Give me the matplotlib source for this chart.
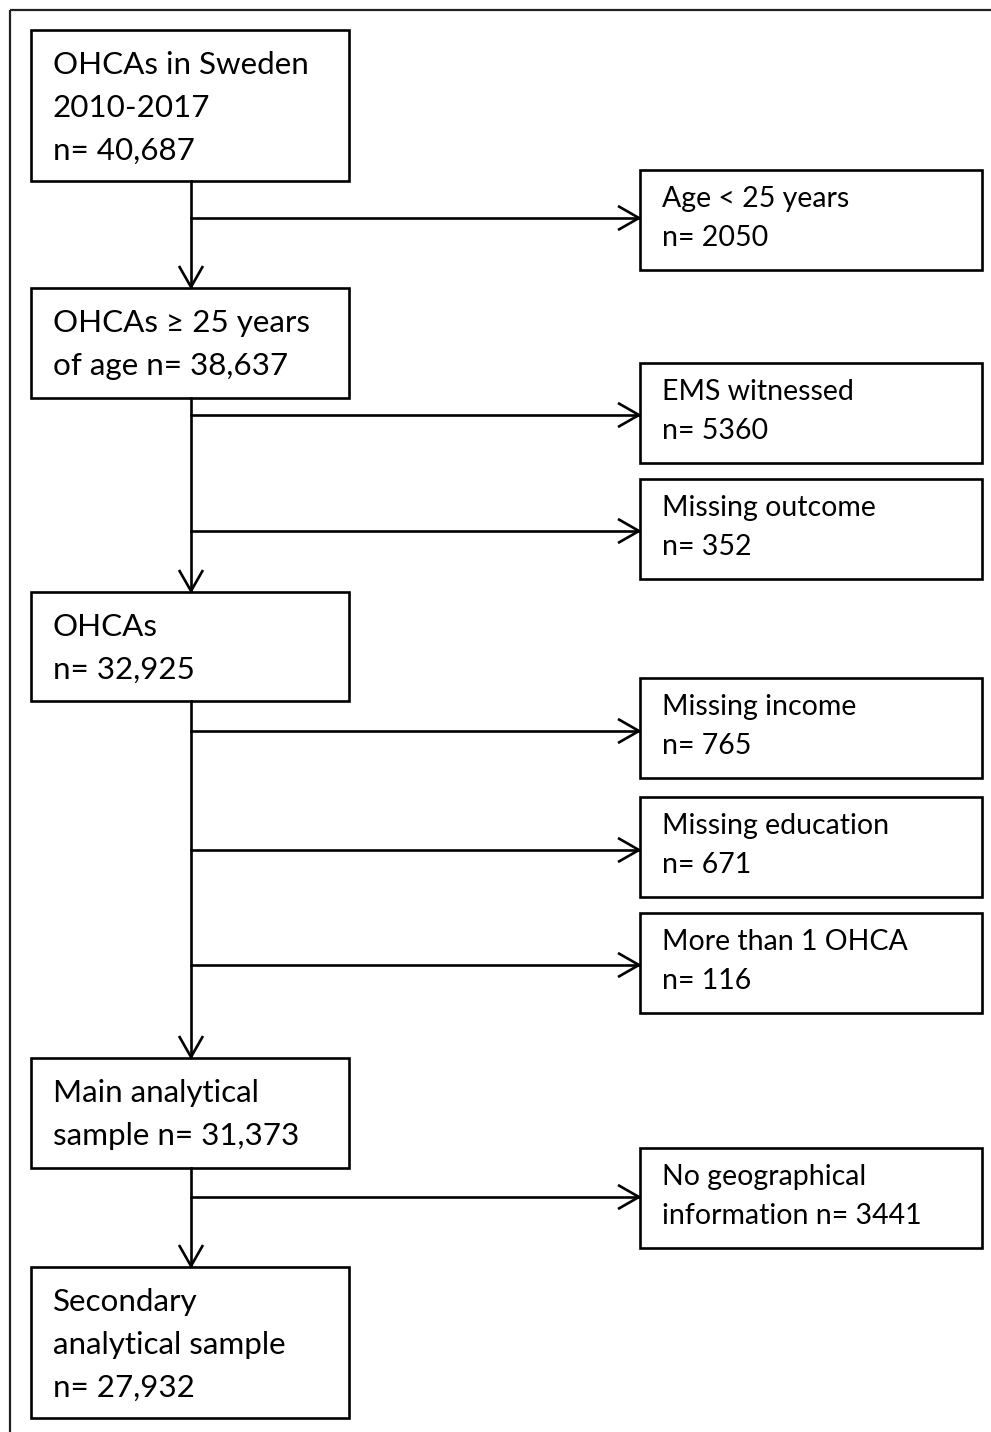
import matplotlib
matplotlib.use("Agg")
import matplotlib.pyplot as plt
from matplotlib.patches import Rectangle

# ---- data ----
main_texts = [
    ["OHCAs in Sweden", "2010-2017", "n= 40,687"],
    ["OHCAs \u2265 25 years", "of age n= 38,637"],
    ["OHCAs", "n= 32,925"],
    ["Main analytical", "sample n= 31,373"],
    ["Secondary", "analytical sample", "n= 27,932"],
]
excl_texts = [
    ["Age < 25 years", "n= 2050"],
    ["EMS witnessed", "n= 5360"],
    ["Missing outcome", "n= 352"],
    ["Missing income", "n= 765"],
    ["Missing education", "n= 671"],
    ["More than 1 OHCA", "n= 116"],
    ["No geographical", "information n= 3441"],
]

# ---- layout (pixels) ----
W, H = 991, 1432
main_x0, main_x1 = 31, 349
main_y = [(30, 181), (288, 398), (592, 701), (1058, 1168), (1267, 1418)]
ex_x0, ex_x1 = 640, 982
ex_y = [(170, 270), (363, 463), (479, 579), (678, 778), (797, 897), (913, 1013), (1148, 1248)]
ex_arrow_y = [218, 415, 531, 731, 850, 965, 1197]
spine_x = 191

FONT = ["Lato", "DejaVu Sans"]
FS_MAIN = 22.6
FS_EX = 20.5
LW = 1.9

fig = plt.figure(figsize=(W / 100, H / 100), dpi=100)
ax = fig.add_axes([0, 0, 1, 1])
ax.set_xlim(0, W)
ax.set_ylim(H, 0)
ax.axis("off")

# outer frame (top and left edges visible)
ax.plot([10, W + 5], [9.5, 9.5], color="#222222", lw=1.6, solid_capstyle="butt")
ax.plot([10, 10], [9.5, H + 5], color="#222222", lw=1.6, solid_capstyle="butt")


def box(x0, x1, y0, y1):
    ax.add_patch(Rectangle((x0, y0), x1 - x0, y1 - y0, fill=False,
                           edgecolor="black", lw=LW, zorder=3))


def vhead(x, y):
    ax.plot([x - 12, x, x + 12], [y - 21, y, y - 21], color="black", lw=LW,
            solid_joinstyle="miter", solid_capstyle="butt", zorder=4)


def hhead(x, y):
    ax.plot([x - 21, x, x - 21], [y - 12, y, y + 12], color="black", lw=LW,
            solid_joinstyle="miter", solid_capstyle="butt", zorder=4)


# main boxes
for lines, (y0, y1) in zip(main_texts, main_y):
    box(main_x0, main_x1, y0, y1)
    for k, t in enumerate(lines):
        ax.text(main_x0 + 22, y0 + 44 + 43 * k, t, fontsize=FS_MAIN, family=FONT,
                ha="left", va="baseline", color="black", zorder=5)

# exclusion boxes
for lines, (y0, y1) in zip(excl_texts, ex_y):
    box(ex_x0, ex_x1, y0, y1)
    for k, t in enumerate(lines):
        ax.text(ex_x0 + 22, y0 + 37 + 39 * k, t, fontsize=FS_EX, family=FONT,
                ha="left", va="baseline", color="black", zorder=5)

# vertical connectors
for i in range(len(main_y) - 1):
    yb = main_y[i][1]
    yt = main_y[i + 1][0]
    ax.plot([spine_x, spine_x], [yb, yt - 1], color="black", lw=LW, zorder=4)
    vhead(spine_x, yt - 1)

# horizontal connectors
for ya in ex_arrow_y:
    ax.plot([spine_x, ex_x0 - 1], [ya, ya], color="black", lw=LW, zorder=4)
    hhead(ex_x0 - 1, ya)

fig.savefig("out.png", dpi=100, facecolor="white")
